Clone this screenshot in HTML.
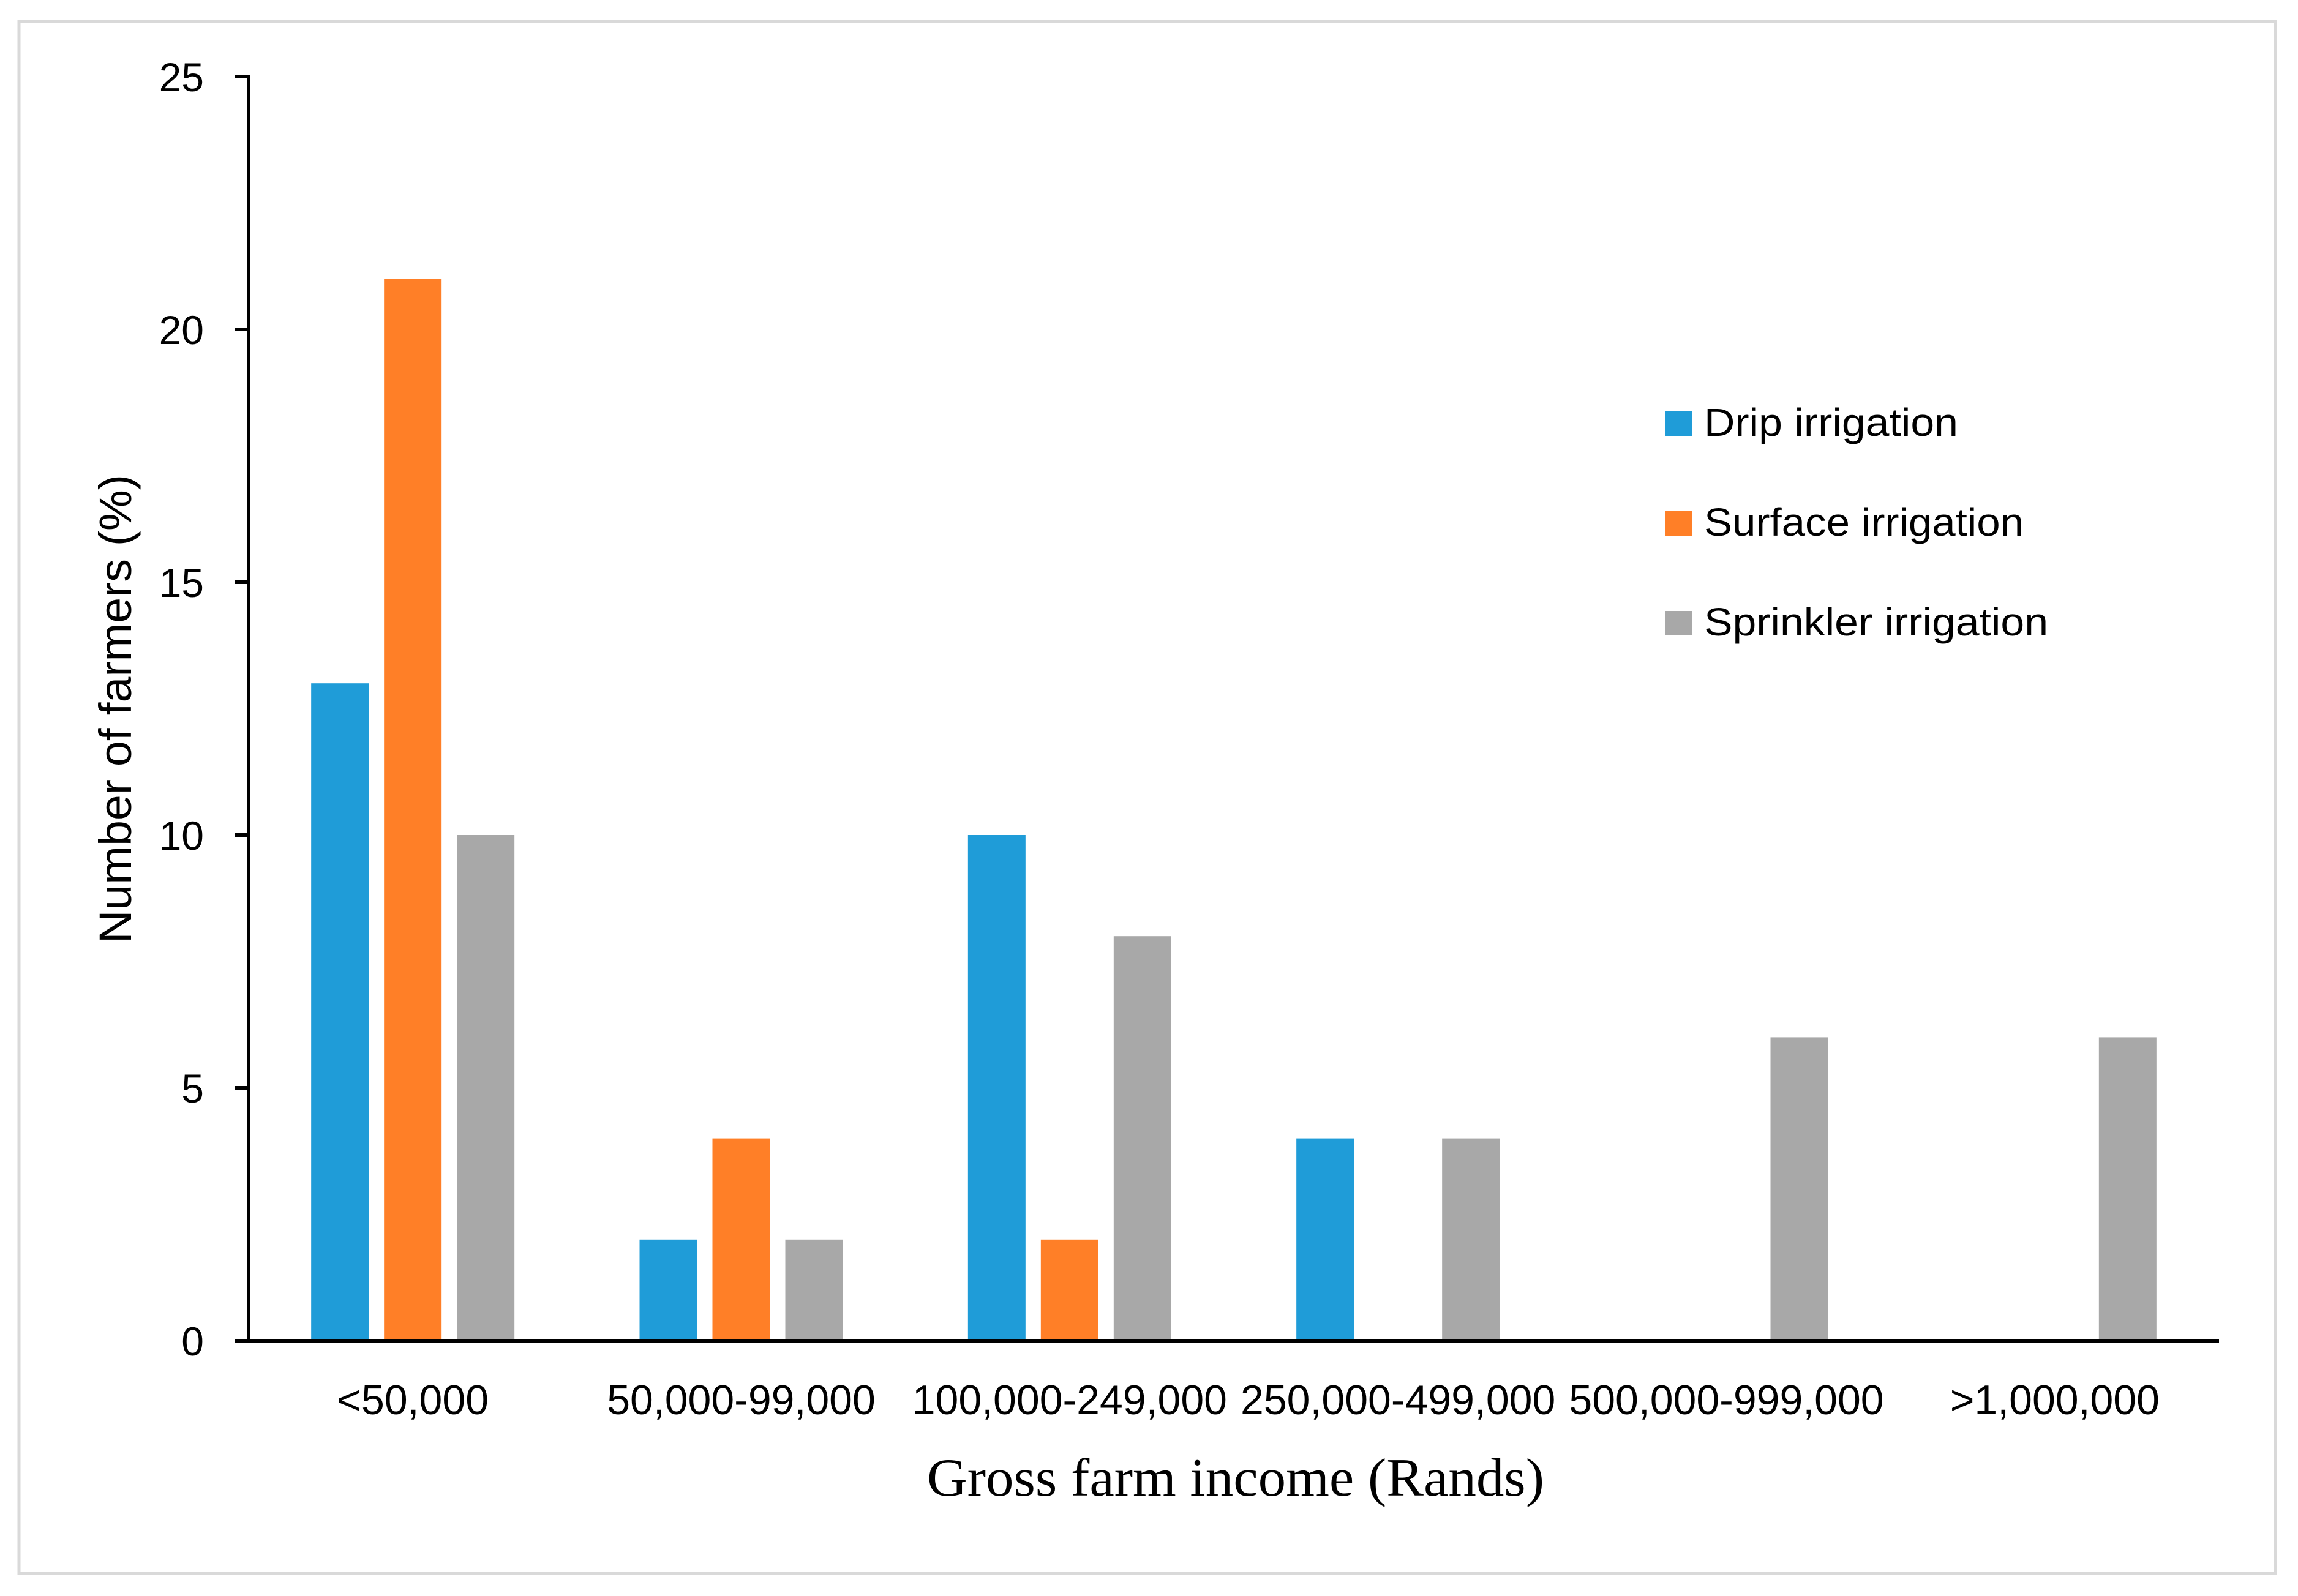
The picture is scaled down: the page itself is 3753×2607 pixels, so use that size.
<!DOCTYPE html>
<html><head><meta charset="utf-8"><style>
html,body{margin:0;padding:0;background:#fff;}
svg{display:block;}
</style></head><body>
<svg id="chart" width="3753" height="2607" viewBox="0 0 3753 2607" xmlns="http://www.w3.org/2000/svg">
<rect x="31" y="35" width="3685" height="2535" fill="#fff" stroke="#d9d9d9" stroke-width="5"/>
<g id="bars"></g>
<g id="axes"></g>
<text transform="translate(214,1158) rotate(-90)" text-anchor="middle" font-family="Liberation Sans, sans-serif" font-size="74" textLength="766" lengthAdjust="spacingAndGlyphs">Number of farmers (%)</text>
<text x="2018" y="2443" text-anchor="middle" font-family="Liberation Serif, serif" font-size="88" textLength="1008" lengthAdjust="spacingAndGlyphs">Gross farm income (Rands)</text>
<g id="legend"></g>
</svg>
<script>
const categories = ["<50,000","50,000-99,000","100,000-249,000","250,000-499,000","500,000-999,000",">1,000,000"];
const dripValues = [13,2,10,4,0,0];
const surfaceValues = [21,4,2,0,0,0];
const sprinklerValues = [10,2,8,4,6,6];
const yTicks = [0,5,10,15,20,25];
const seriesNames = ["Drip irrigation","Surface irrigation","Sprinkler irrigation"];

const NS = "http://www.w3.org/2000/svg";
const colors = ["#1f9cd8","#ff7f27","#a8a8a8"];
const x0 = 406, x1 = 3624, yBase = 2190, yTop = 125, yMax = 25;
const catW = (x1 - x0) / categories.length;
const barW = 94, barStep = 119;
function yScale(v){ return yBase - (v / yMax) * (yBase - yTop); }
function xCenter(i){ return x0 + catW * (i + 0.5); }
function mk(tag, attrs){ const e = document.createElementNS(NS, tag); for (const k in attrs) e.setAttribute(k, attrs[k]); return e; }

const bars = document.getElementById('bars');
const series = [dripValues, surfaceValues, sprinklerValues];
const snames = ['drip','surface','sprinkler'];
series.forEach((vals, s) => {
  vals.forEach((v, i) => {
    if (v <= 0) return;
    const cx = xCenter(i) + (s - 1) * barStep;
    const r = mk('rect', {x: cx - barW/2, y: yScale(v), width: barW, height: yBase - yScale(v), fill: colors[s]});
    
    
    bars.appendChild(r);
  });
});

const axes = document.getElementById('axes');
const yAxis = mk('line', {x1: x0, y1: yTop - 3, x2: x0, y2: yBase + 3, stroke: '#000', 'stroke-width': 6});


axes.appendChild(yAxis);
const xAxis = mk('line', {x1: x0 - 23, y1: yBase, x2: x1, y2: yBase, stroke: '#000', 'stroke-width': 6});


axes.appendChild(xAxis);
yTicks.forEach(t => {
  const y = yScale(t);
  const tk = mk('line', {x1: x0 - 23, y1: y, x2: x0, y2: y, stroke: '#000', 'stroke-width': 6});
  
  
  axes.appendChild(tk);
  const lb = mk('text', {x: 333, y: y + 24, 'text-anchor': 'end', 'font-family': 'Liberation Sans, sans-serif', 'font-size': 66});
  lb.textContent = t;
  
  
  axes.appendChild(lb);
});
categories.forEach((c, i) => {
  const lb = mk('text', {x: xCenter(i), y: 2310, 'text-anchor': 'middle', 'font-family': 'Liberation Sans, sans-serif', 'font-size': 68});
  lb.textContent = c;
  
  
  axes.appendChild(lb);
});

const legend = document.getElementById('legend');
const legendY = [712, 875, 1038];
const legendW = [415, 522, 562];
seriesNames.forEach((n, s) => {
  const sq = mk('rect', {x: 2720, y: legendY[s] - 40, width: 43, height: 40, fill: colors[s]});
  
  
  legend.appendChild(sq);
  const tx = mk('text', {x: 2783, y: legendY[s], 'font-family': 'Liberation Sans, sans-serif', 'font-size': 64, textLength: legendW[s], lengthAdjust: 'spacingAndGlyphs'});
  tx.textContent = n;
  
  
  legend.appendChild(tx);
});
</script>
</body></html>
